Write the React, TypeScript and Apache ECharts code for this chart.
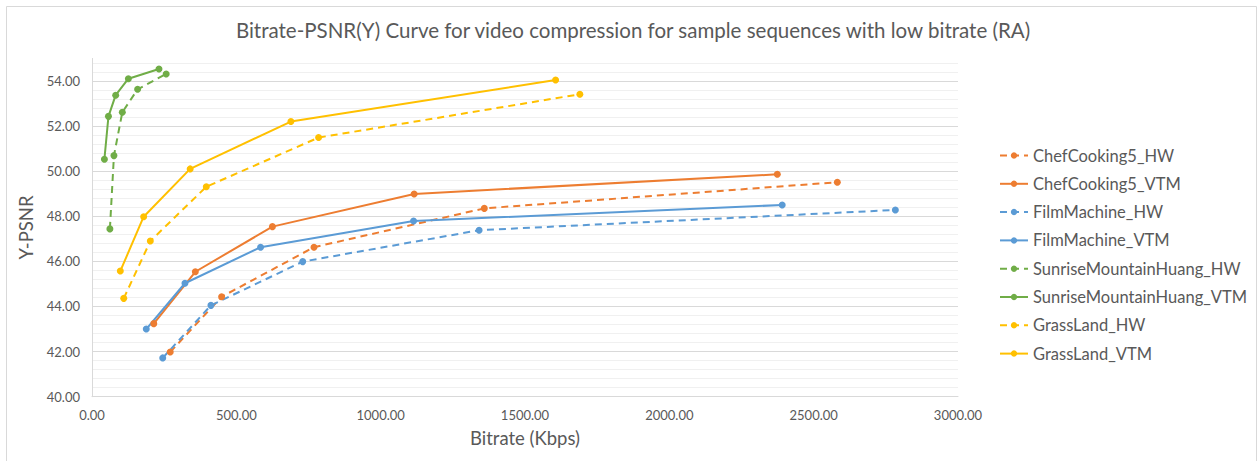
import React, { useEffect, useRef } from "react";
import * as echarts from "echarts";

const seriesNames = [
  "ChefCooking5_HW",
  "ChefCooking5_VTM",
  "FilmMachine_HW",
  "FilmMachine_VTM",
  "SunriseMountainHuang_HW",
  "SunriseMountainHuang_VTM",
  "GrassLand_HW",
  "GrassLand_VTM",
];

const chefHW_x = [271, 449, 769, 1359, 2582];
const chefHW_y = [41.98, 44.43, 46.63, 48.35, 49.51];
const chefVTM_x = [214, 358, 625, 1116, 2374];
const chefVTM_y = [43.24, 45.54, 47.54, 48.99, 49.86];
const filmHW_x = [245, 412, 730, 1341, 2783];
const filmHW_y = [41.72, 44.05, 45.99, 47.38, 48.28];
const filmVTM_x = [188, 322, 584, 1114, 2391];
const filmVTM_y = [43.0, 45.03, 46.63, 47.79, 48.5];
const sunHW_x = [62, 76, 105, 158, 257];
const sunHW_y = [47.44, 50.69, 52.61, 53.63, 54.31];
const sunVTM_x = [43, 57, 82, 126, 232];
const sunVTM_y = [50.53, 52.43, 53.37, 54.1, 54.53];
const grassHW_x = [110, 202, 396, 785, 1690];
const grassHW_y = [44.36, 46.9, 49.31, 51.49, 53.41];
const grassVTM_x = [98, 179, 340, 689, 1606];
const grassVTM_y = [45.57, 47.98, 50.1, 52.2, 54.04];

const xs = [chefHW_x, chefVTM_x, filmHW_x, filmVTM_x, sunHW_x, sunVTM_x, grassHW_x, grassVTM_x];
const ys = [chefHW_y, chefVTM_y, filmHW_y, filmVTM_y, sunHW_y, sunVTM_y, grassHW_y, grassVTM_y];
const colors = ["#ED7D31", "#ED7D31", "#5B9BD5", "#5B9BD5", "#70AD47", "#70AD47", "#FFC000", "#FFC000"];
const dashed = [true, false, true, false, true, false, true, false];

const titleText = "Bitrate-PSNR(Y) Curve for video compression for sample sequences with low bitrate (RA)";
const xName = "Bitrate (Kbps)";
const yName = "Y-PSNR";

const FONT = "Lato";
const TEXT = "#595959";

export default function App() {
  const ref = useRef<HTMLDivElement>(null);
  useEffect(() => {
    if (!ref.current) return;
    const chart = echarts.init(ref.current, null, { renderer: "svg" });
    const series = seriesNames.map((name, i) => ({
      name,
      type: "line",
      data: xs[i].map((x, j) => [x, ys[i][j]]),
      symbol: "circle",
      symbolSize: 7,
      showSymbol: true,
      lineStyle: { color: colors[i], width: 2, type: dashed[i] ? [7, 5] : "solid" },
      itemStyle: { color: colors[i] },
      z: 3,
    }));
    chart.setOption({
      animation: false,
      backgroundColor: "#ffffff",
      textStyle: { fontFamily: FONT },
      title: {
        text: titleText,
        left: 633,
        top: 19,
        padding: 0,
        textAlign: "center",
        textStyle: { fontFamily: FONT, fontSize: 20.5, fontWeight: "normal", color: TEXT },
      },
      graphic: [
        {
          type: "rect",
          shape: { x: 6.5, y: 6.5, width: 1250, height: 470 },
          style: { fill: "none", stroke: "#d9d9d9", lineWidth: 1 },
          silent: true,
        },
      ],
      legend: {
        orient: "vertical",
        left: 999,
        top: 147,
        padding: 0,
        itemWidth: 28,
        itemHeight: 8,
        itemGap: 11.3,
        textStyle: { fontFamily: FONT, fontSize: 16.5, color: TEXT },
        data: seriesNames,
      },
      grid: { left: 92, right: 300, top: 58.4, bottom: 64.3, containLabel: false },
      xAxis: {
        type: "value",
        min: 0,
        max: 3000,
        interval: 500,
        name: xName,
        nameLocation: "middle",
        nameGap: 32,
        nameTextStyle: { fontFamily: FONT, fontSize: 18.5, color: TEXT },
        axisLine: { show: true, lineStyle: { color: "#d9d9d9", width: 1 } },
        axisTick: { show: false },
        splitLine: { show: false },
        axisLabel: {
          margin: 12,
          fontFamily: FONT,
          fontSize: 13,
          color: TEXT,
          formatter: (v: number) => v.toFixed(2),
        },
      },
      yAxis: {
        type: "value",
        min: 40,
        max: 55,
        interval: 2,
        name: yName,
        nameLocation: "middle",
        nameGap: 43,
        nameTextStyle: { fontFamily: FONT, fontSize: 18.5, color: TEXT },
        axisLine: { show: true, lineStyle: { color: "#d9d9d9", width: 1 } },
        axisTick: { show: false },
        minorTick: { show: false, splitNumber: 5 },
        minorSplitLine: { show: true, lineStyle: { color: "#f0f0f0", width: 1 } },
        splitLine: {
          show: true,
          lineStyle: {
            color: ["#d9d9d9", "#d9d9d9", "#d9d9d9", "#d9d9d9", "#d9d9d9", "#d9d9d9", "#d9d9d9", "#d9d9d9", "rgba(0,0,0,0)"],
            width: 1,
          },
        },
        axisLabel: {
          margin: 12,
          fontFamily: FONT,
          fontSize: 13,
          color: TEXT,
          showMaxLabel: false,
          formatter: (v: number) => v.toFixed(2),
        },
      },
      series,
    });
    return () => chart.dispose();
  }, []);
  return (
    <div
      ref={ref}
      style={{ position: "fixed", left: 0, top: 0, width: 1258, height: 461 }}
    />
  );
}
